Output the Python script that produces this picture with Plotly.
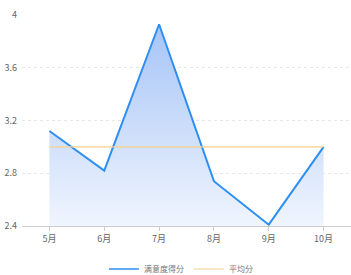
import plotly.graph_objects as go

months = ["5月", "6月", "7月", "8月", "9月", "10月"]
scores = [3.12, 2.82, 3.93, 2.74, 2.41, 3.0]
average = [3.0, 3.0, 3.0, 3.0, 3.0, 3.0]
y_ticks = [2.4, 2.8, 3.2, 3.6, 4]

line_blue = "#2f8ff0"

fig = go.Figure()
fig.add_trace(go.Scatter(
    x=months, y=scores, name="满意度得分", mode="lines",
    line=dict(color=line_blue, width=2),
    fill="tozeroy", showlegend=False, legendgroup="s",
    fillgradient=dict(type="vertical", start=2.4, stop=4.0,
                      colorscale=[[0, "rgba(240,245,254,1)"], [1, "rgba(162,194,246,1)"]]),
))
# legend entry (line only)
fig.add_trace(go.Scatter(
    x=[None], y=[None], name="满意度得分", mode="lines", legendgroup="s",
    line=dict(color=line_blue, width=1.5),
))
fig.add_trace(go.Scatter(
    x=months, y=average, name="平均分", mode="lines",
    line=dict(color="#f8cf8c", width=1.2),
))

fig.update_layout(
    width=351, height=275,
    margin=dict(l=22, r=0, t=15, b=49, autoexpand=False),
    paper_bgcolor="white", plot_bgcolor="white",
    font=dict(family="Noto Sans CJK SC, sans-serif", size=9, color="#666666"),
    showlegend=True,
    legend=dict(orientation="h", x=0.483, xanchor="center", y=-0.135, yanchor="top",
                font=dict(size=8, color="#777777"), itemwidth=30, tracegroupgap=0),
    xaxis=dict(
        type="category", range=[-0.5, 5.5], showgrid=False, automargin=False,
        showline=True, linecolor="#cccccc", linewidth=1,
        ticks="outside", ticklen=4, tickcolor="#cccccc",
        tickfont=dict(size=9, color="#666666"), zeroline=False,
    ),
    yaxis=dict(
        range=[2.4, 4.0], tickvals=y_ticks, ticktext=["2.4", "2.8", "3.2", "3.6", "4"],
        showgrid=True, gridcolor="#e6e6e6", griddash="dot", gridwidth=1, automargin=False,
        showline=False, zeroline=False, ticks="", ticklabelstandoff=4,
        tickfont=dict(size=9, color="#666666"),
    ),
)
fig.write_html(
    "out.html",
    config={"displayModeBar": False},
    post_script="document.body.style.margin='0';document.body.style.overflow='hidden';",
)
